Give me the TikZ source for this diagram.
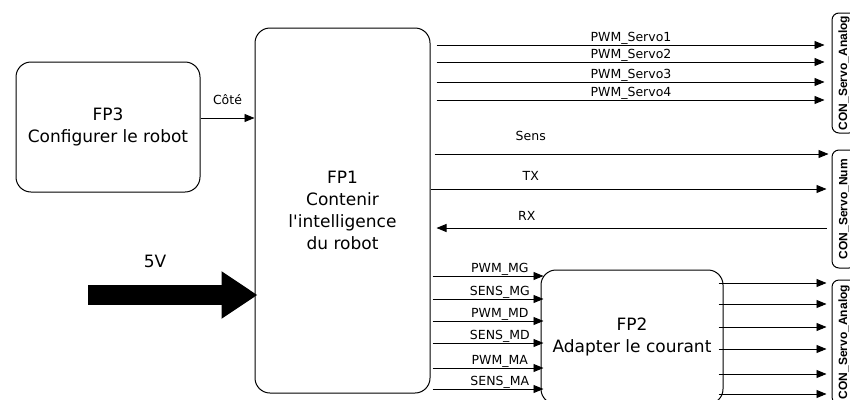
\documentclass[tikz,border=0pt]{standalone}
\usepackage{fontspec}
\setmainfont{DejaVu Sans}
\newfontfamily\confont{Liberation Sans}
\usetikzlibrary{arrows.meta}

\begin{document}
\begin{tikzpicture}[
      x=1pt, y=-1pt,
      every node/.style={font=\fontsize{12.5}{14}\selectfont},
      fp/.style={draw, line width=1pt, rounded corners=15pt, align=center,
        font=\fontsize{17}{22}\selectfont},
      con/.style={draw, line width=1pt, rounded corners=7pt, rotate=90,
        minimum height=24pt, inner sep=0pt,
        font=\confont\bfseries\fontsize{12}{13}\selectfont},
      sig/.style={line width=0.9pt, -{Triangle[length=10pt,width=8pt]}},
      lbl/.style={above, inner sep=0.5pt}
    ]
  \useasboundingbox (0,0) rectangle (850,399);

  \node[fp, minimum width=184pt, minimum height=130pt] (fp3) at (108,127)
    {FP3\\Configurer le robot};
  \node[fp, minimum width=175pt, minimum height=365pt] (fp1) at (342.5,210.5)
    {FP1\\Contenir\\l\textquotesingle intelligence\\du robot};
  \node[fp, minimum width=182pt, minimum height=134pt] (fp2) at (632,337)
    {FP2\\Adapter le courant};

  % connectors on the right (rotated, so .north is the left side)
  \node[con, minimum width=120pt] (conA) at (844,73) {CON\_Servo\_Analog};
  \node[con, minimum width=118pt] (conN) at (844,209) {CON\_Servo\_Num};
  \node[con, minimum width=124pt] (conM) at (844,342) {CON\_Servo\_Analog};

  \draw[sig] (fp3.east |- 0,118) -- node[lbl, above=12pt] {Côté} (fp1.west |- 0,118);

  \coordinate (pwr) at (88,295);
  \node (v5) at (155,261) {\fontsize{17}{20}\selectfont 5V};
  \draw[line width=20pt, -{Triangle[length=36pt,width=45pt]}, shorten >=-3pt]
    (pwr) -- (fp1.west |- pwr);

  \foreach \y/\n in {45/1,62/2,82/3,100/4}
    \draw[sig, shorten <=6pt, shorten >=7pt] (fp1.east |- 0,\y)
      -- node[lbl] {PWM\_Servo\n} (conA.north |- 0,\y);

  \draw[sig, shorten <=4pt, shorten >=3pt] (fp1.east |- 0,154)
    -- node[lbl, above=12pt, pos=0.25] {Sens} (conN.north |- 0,154);
  \draw[sig, shorten >=5pt] (fp1.east |- 0,189)
    -- node[lbl, above=8pt, pos=0.25] {TX} (conN.north |- 0,189);
  \draw[sig, shorten <=5pt, shorten >=6pt] (conN.north |- 0,228)
    -- node[lbl, above=7pt, pos=0.76] {RX} (fp1.east |- 0,228);

  \foreach \y/\t in {276/PWM\_MG,299/SENS\_MG,321/PWM\_MD,343/SENS\_MD,368/PWM\_MA,389/SENS\_MA}
    \draw[sig, shorten <=2pt, shorten >=-3pt] (fp1.east |- 0,\y)
      -- node[lbl, pos=0.63] {\t} (fp2.west |- 0,\y);

  \foreach \y in {283,304,327,349,374,394}
    \draw[sig, shorten <=-5pt, shorten >=5pt] (fp2.east |- 0,\y) -- (conM.north |- 0,\y);
\end{tikzpicture}
\end{document}
